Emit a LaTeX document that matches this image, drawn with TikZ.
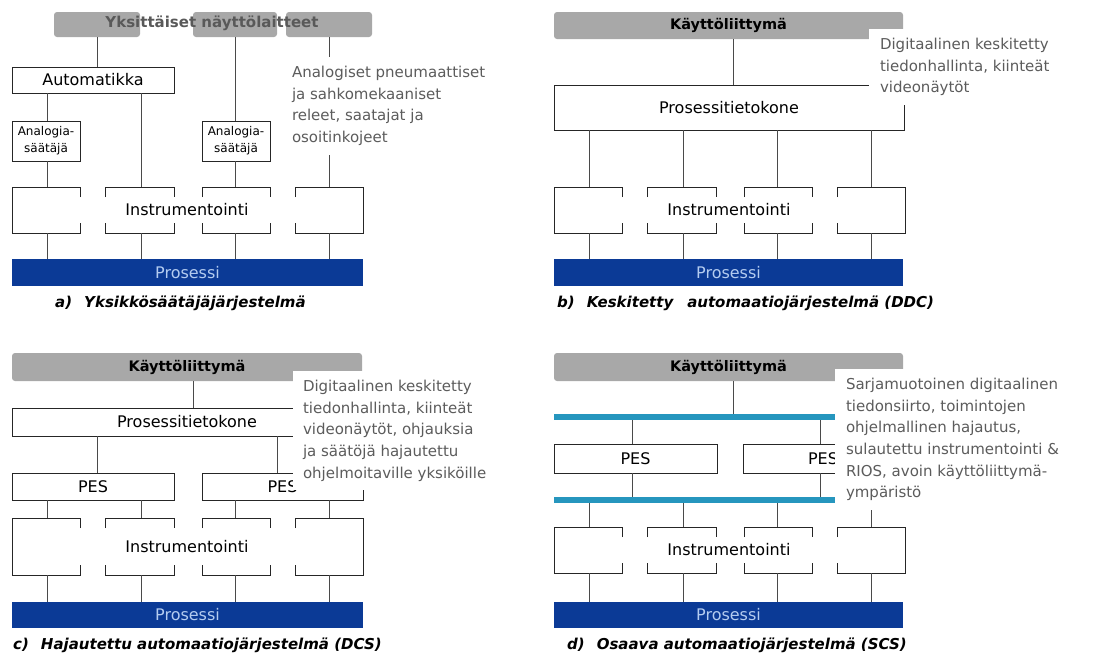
\documentclass[tikz,border=0pt]{standalone}
\usepackage{fontspec}
\setmainfont{DejaVu Sans}
\usetikzlibrary{calc}
\definecolor{boxgray}{HTML}{A8A8A8}
\definecolor{procblue}{HTML}{0B3A96}
\definecolor{proctext}{HTML}{B4CCF0}
\definecolor{busblue}{HTML}{2696BE}
\definecolor{notegray}{HTML}{5C5C5C}
\definecolor{linegray}{HTML}{4A4A4A}
\tikzset{
  bx/.style={draw=black!85, line width=0.9pt, fill=white, inner sep=0pt, outer sep=0pt, font=\fontsize{16}{18}\selectfont},
  anbx/.style={bx, align=center, font=\fontsize{12}{17}\selectfont},
  gbox/.style={fill=boxgray, rounded corners=3pt, inner sep=0pt, outer sep=0pt, font=\bfseries\fontsize{14.5}{16}\selectfont},
  pbar/.style={fill=procblue, inner sep=0pt, outer sep=0pt, text=proctext, font=\fontsize{16}{18}\selectfont},
  busbar/.style={fill=busblue, inner sep=0pt, outer sep=0pt},
  ibx/.style={inner sep=0pt, outer sep=0pt},
  iline/.style={draw=black!85, line width=0.9pt},
  conn/.style={draw=linegray, line width=0.8pt},
  note/.style={fill=white, inner xsep=11pt, inner ysep=9pt, outer sep=0pt, text=notegray, align=left, font=\fontsize{15}{21.7}\selectfont, anchor=north west},
  capt/.style={anchor=west, inner sep=0pt, font=\bfseries\itshape\fontsize{15}{17}\selectfont},
  ilabel/.style={inner sep=0pt, font=\fontsize{16}{18}\selectfont},
}
\newcommand\rbox[7]{\node[#6, minimum width={#4-#2}, minimum height={#5-#3}] (#1) at ({(#2+#4)/2},{(#3+#5)/2}) {#7};}
\newcommand\irow[3]{%
  \rbox{#1i1}{12}{#2}{80}{#3}{ibx}{}
  \rbox{#1i2}{105}{#2}{174}{#3}{ibx}{}
  \rbox{#1i3}{202}{#2}{270}{#3}{ibx}{}
  \rbox{#1i4}{295}{#2}{363}{#3}{ibx}{}
  \draw[iline] ($(#1i1.north east)+(0,10)$) -- (#1i1.north east) -- (#1i1.north west) -- (#1i1.south west) -- (#1i1.south east) -- ($(#1i1.south east)+(0,-10)$);
  \foreach \k in {2,3}{
    \draw[iline] ($(#1i\k.north west)+(0,10)$) -- (#1i\k.north west) -- (#1i\k.north east) -- ($(#1i\k.north east)+(0,10)$);
    \draw[iline] ($(#1i\k.south west)+(0,-10)$) -- (#1i\k.south west) -- (#1i\k.south east) -- ($(#1i\k.south east)+(0,-10)$);
  }
  \draw[iline] ($(#1i4.north west)+(0,10)$) -- (#1i4.north west) -- (#1i4.north east) -- (#1i4.south east) -- (#1i4.south west) -- ($(#1i4.south west)+(0,-10)$);
  \node[ilabel] (#1ilab) at ({187},{(#2+#3)/2}) {Instrumentointi};
  \coordinate (#1c1) at (47,0);
  \coordinate (#1c2) at (141,0);
  \coordinate (#1c3) at (235,0);
  \coordinate (#1c4) at (329,0);
}
\begin{document}
\begin{tikzpicture}[x=1pt,y=-1pt]
\fill[white] (0,0) rectangle (1114,657);
\useasboundingbox (0,0) rectangle (1114,657);

% ---------------- panel a ----------------
\rbox{ag1}{54}{12}{140}{37}{gbox}{}
\rbox{ag2}{193}{12}{277}{37}{gbox}{}
\rbox{ag3}{286}{12}{372}{37}{gbox}{}
\node[inner sep=0pt, font=\bfseries\fontsize{15}{17}\selectfont, text=black!65] (agt) at (212,23) {Yksittäiset näyttölaitteet};
\rbox{aauto}{12}{67}{174}{93}{bx}{Automatikka}
\rbox{aan1}{12}{121}{80}{161}{anbx}{Analogia-\\säätäjä}
\rbox{aan2}{202}{121}{270}{161}{anbx}{Analogia-\\säätäjä}
\irow{a}{187}{233}
\rbox{apros}{12}{259}{363}{286}{pbar}{Prosessi}
\coordinate (acg) at (97,0);
\draw[conn] (acg |- ag1.south) -- (acg |- aauto.north);
\draw[conn] (ac1 |- aauto.south) -- (ac1 |- aan1.north);
\draw[conn] (ac2 |- aauto.south) -- (ac2 |- ai2.north);
\draw[conn] (ac3 |- ag2.south) -- (ac3 |- aan2.north);
\draw[conn] (ac4 |- ag3.south) -- (ac4 |- ai4.north);
\draw[conn] (ac1 |- aan1.south) -- (ac1 |- ai1.north);
\draw[conn] (ac3 |- aan2.south) -- (ac3 |- ai3.north);
\foreach \i in {1,...,4}{\draw[conn] (ac\i |- ai\i.south) -- (ac\i |- apros.north);}
\node[note, inner xsep=4pt] (anote) at (288,57) {Analogiset pneumaattiset\\ja sahkomekaaniset\\releet, saatajat ja\\osoitinkojeet};
\node[capt] (acap) at (55,303) {a)\hspace{12pt}Yksikkösäätäjäjärjestelmä};

% ---------------- panel b ----------------
\begin{scope}[xshift=542pt]
\rbox{bg}{12}{12}{361}{39}{gbox}{Käyttöliittymä}
\rbox{bpt}{12}{85}{362}{130}{bx}{Prosessitietokone}
\irow{b}{187}{233}
\rbox{bpros}{12}{259}{361}{286}{pbar}{Prosessi}
\coordinate (bcg) at (191,0);
\draw[conn] (bcg |- bg.south) -- (bcg |- bpt.north);
\foreach \i in {1,...,4}{
  \draw[conn] (bc\i |- bpt.south) -- (bc\i |- bi\i.north);
  \draw[conn] (bc\i |- bi\i.south) -- (bc\i |- bpros.north);}
\node[note] (bnote) at (327,29) {Digitaalinen keskitetty\\tiedonhallinta, kiinteät\\videonäytöt};
\node[capt] (bcap) at (15,303) {b)\hspace{12pt}Keskitetty\hspace{14pt}automaatiojärjestelmä (DDC)};
\end{scope}

% ---------------- panel c ----------------
\rbox{cg}{12}{353}{362}{381}{gbox}{Käyttöliittymä}
\rbox{cpt}{12}{408}{362}{436}{bx}{Prosessitietokone}
\rbox{cpes1}{12}{473}{174}{500}{bx}{PES}
\rbox{cpes2}{202}{473}{363}{500}{bx}{PES}
\irow{c}{518}{575}
\rbox{cpros}{12}{602}{363}{628}{pbar}{Prosessi}
\coordinate (ccg) at (193,0);
\coordinate (ccp1) at (97,0);
\coordinate (ccp2) at (277,0);
\draw[conn] (ccg |- cg.south) -- (ccg |- cpt.north);
\draw[conn] (ccp1 |- cpt.south) -- (ccp1 |- cpes1.north);
\draw[conn] (ccp2 |- cpt.south) -- (ccp2 |- cpes2.north);
\draw[conn] (cc1 |- cpes1.south) -- (cc1 |- ci1.north);
\draw[conn] (cc2 |- cpes1.south) -- (cc2 |- ci2.north);
\draw[conn] (cc3 |- cpes2.south) -- (cc3 |- ci3.north);
\draw[conn] (cc4 |- cpes2.south) -- (cc4 |- ci4.north);
\foreach \i in {1,...,4}{\draw[conn] (cc\i |- ci\i.south) -- (cc\i |- cpros.north);}
\node[note, inner xsep=10pt] (cnote) at (293,371) {Digitaalinen keskitetty\\tiedonhallinta, kiinteät\\videonäytöt, ohjauksia\\ja säätöjä hajautettu\\ohjelmoitaville yksiköille};
\node[capt] (ccap) at (13,645) {c)\hspace{12pt}Hajautettu automaatiojärjestelmä (DCS)};

% ---------------- panel d ----------------
\begin{scope}[xshift=542pt]
\rbox{dg}{12}{353}{361}{381}{gbox}{Käyttöliittymä}
\rbox{db1}{12}{414}{300}{420}{busbar}{}
\rbox{dpes1}{12}{444}{175}{473}{bx}{PES}
\rbox{dpes2}{201}{444}{361}{473}{bx}{PES}
\rbox{db2}{12}{497}{300}{503}{busbar}{}
\irow{d}{527}{573}
\rbox{dpros}{12}{602}{361}{628}{pbar}{Prosessi}
\coordinate (dcg) at (191,0);
\coordinate (dcp1) at (90,0);
\coordinate (dcp2) at (278,0);
\draw[conn] (dcg |- dg.south) -- (dcg |- db1.north);
\draw[conn] (dcp1 |- db1.south) -- (dcp1 |- dpes1.north);
\draw[conn] (dcp2 |- db1.south) -- (dcp2 |- dpes2.north);
\draw[conn] (dcp1 |- dpes1.south) -- (dcp1 |- db2.north);
\draw[conn] (dcp2 |- dpes2.south) -- (dcp2 |- db2.north);
\foreach \i in {1,...,4}{
  \draw[conn] (dc\i |- db2.south) -- (dc\i |- di\i.north);
  \draw[conn] (dc\i |- di\i.south) -- (dc\i |- dpros.north);}
\node[note] (dnote) at (293,369) {Sarjamuotoinen digitaalinen\\tiedonsiirto, toimintojen\\ohjelmallinen hajautus,\\sulautettu instrumentointi \&\\RIOS, avoin käyttöliittymä-\\ympäristö};
\node[capt] (dcap) at (25,645) {d)\hspace{12pt}Osaava automaatiojärjestelmä (SCS)};
\end{scope}
\end{tikzpicture}
\end{document}
